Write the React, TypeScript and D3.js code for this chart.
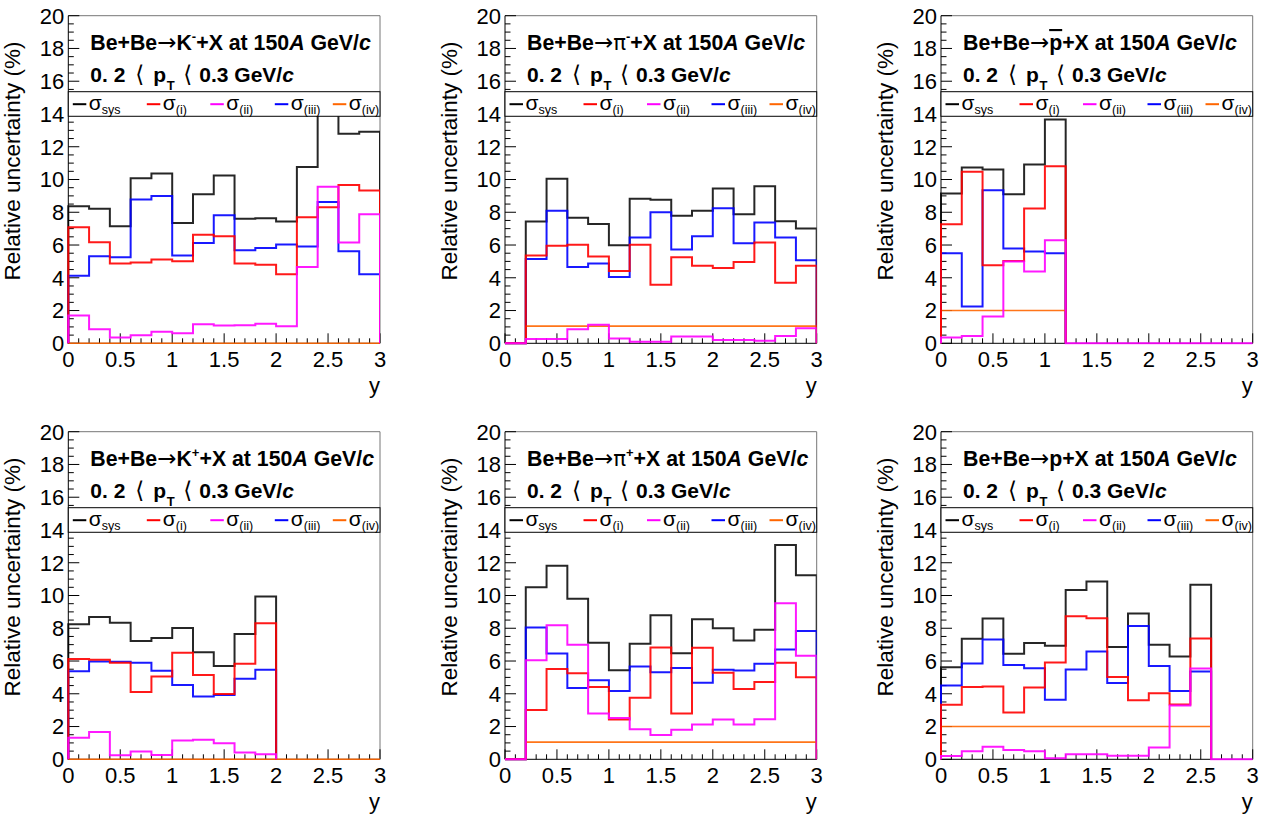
import React from "react";
import * as d3 from "d3";

// ---------- data ----------
const binEdges = [0, 0.2, 0.4, 0.6, 0.8, 1.0, 1.2, 1.4, 1.6, 1.8, 2.0, 2.2, 2.4, 2.6, 2.8, 3.0];
const yTicks = [0, 2, 4, 6, 8, 10, 12, 14, 16, 18, 20];
const xTicks = [0, 0.5, 1, 1.5, 2, 2.5, 3];
const xTickLabels = ["0", "0.5", "1", "1.5", "2", "2.5", "3"];
const legendLabels = ["sys", "(i)", "(ii)", "(iii)", "(iv)"];
const seriesColors = ["#000000", "#ff0000", "#ff00ff", "#0000ff", "#ff6600"];

// K- (top left)
const kmSys = [8.37, 8.21, 7.15, 10.08, 10.37, 7.35, 9.1, 10.24, 7.6, 7.64, 7.43, 10.77, 15.2, 12.79, 12.91];
const kmI = [7.09, 6.17, 4.87, 4.93, 5.11, 5.01, 6.62, 6.54, 4.87, 4.79, 4.22, 7.7, 8.31, 9.67, 9.33];
const kmII = [1.69, 0.86, 0.35, 0.49, 0.71, 0.61, 1.16, 1.08, 1.1, 1.2, 1.04, 4.66, 9.55, 6.15, 7.88];
const kmIII = [4.13, 5.32, 5.25, 8.78, 9.0, 5.36, 6.13, 7.82, 5.68, 5.82, 6.03, 5.91, 8.62, 5.62, 4.22];
const kmIV = [0, 0, 0, 0, 0, 0, 0, 0, 0, 0, 0, 0, 0, 0, 0];

// pi- (top middle)
const pimSys = [0, 7.43, 10.04, 7.66, 7.29, 5.99, 8.82, 8.76, 7.78, 8.09, 9.45, 7.88, 9.59, 7.45, 7.01];
const pimI = [0, 5.36, 5.95, 6.01, 5.3, 4.42, 6.01, 3.58, 5.25, 4.73, 4.6, 4.97, 6.15, 3.69, 4.73];
const pimII = [0, 0.26, 0.26, 0.86, 1.14, 0.29, 0.1, 0.1, 0.41, 0.41, 0.2, 0.2, 0.16, 0.45, 0.92];
const pimIII = [0, 5.15, 8.09, 4.66, 4.87, 4.05, 6.46, 8.0, 5.72, 6.54, 8.25, 6.11, 7.37, 6.46, 5.07];
const pimIV = [0, 1.05, 1.05, 1.05, 1.05, 1.05, 1.05, 1.05, 1.05, 1.05, 1.05, 1.05, 1.05, 1.05, 1.05];

// anti-p (top right)
const pbSys = [9.14, 10.73, 10.61, 9.1, 10.92, 13.67];
const pbI = [7.27, 10.47, 4.77, 5.03, 8.23, 10.81];
const pbII = [0.35, 0.45, 1.63, 4.99, 4.38, 6.29, 0, 0, 0, 0, 0, 0, 0, 0, 0];
const pbIII = [5.5, 2.24, 9.35, 5.78, 5.6, 5.5];
const pbIV = [2.0, 2.0, 2.0, 2.0, 2.0, 2.0];

// K+ (bottom left)
const kpSys = [8.24, 8.69, 8.34, 7.22, 7.4, 8.02, 6.54, 5.69, 7.65, 9.94];
const kpI = [6.13, 6.07, 5.89, 4.11, 5.05, 6.5, 5.15, 3.99, 5.83, 8.3];
const kpII = [1.31, 1.66, 0.25, 0.47, 0.27, 1.15, 1.19, 0.98, 0.41, 0.31];
const kpIII = [5.38, 5.97, 5.95, 5.89, 5.4, 4.54, 3.84, 3.93, 4.91, 5.46];
const kpIV = [0, 0, 0, 0, 0, 0, 0, 0, 0, 0, 0, 0, 0, 0, 0];

// pi+ (bottom middle)
const pipSys = [0, 10.51, 11.82, 9.8, 7.12, 5.44, 7.06, 8.79, 6.48, 8.55, 8.0, 7.26, 7.91, 13.09, 11.23];
const pipI = [0, 3.01, 5.52, 5.26, 4.42, 2.43, 3.76, 6.83, 2.8, 6.81, 5.28, 4.29, 4.72, 5.89, 5.01];
const pipII = [0, 6.05, 8.18, 6.99, 2.8, 2.52, 1.84, 1.49, 1.8, 2.13, 2.43, 2.13, 2.45, 9.53, 6.32];
const pipIII = [0, 8.04, 6.46, 4.36, 4.83, 4.17, 5.66, 5.32, 5.58, 4.68, 5.46, 5.42, 5.83, 6.71, 7.83];
const pipIV = [0, 1.05, 1.05, 1.05, 1.05, 1.05, 1.05, 1.05, 1.05, 1.05, 1.05, 1.05, 1.05, 1.05, 1.05];

// p (bottom right)
const pSys = [5.62, 7.36, 8.59, 6.44, 7.1, 6.93, 10.33, 10.86, 6.85, 8.9, 6.99, 6.28, 10.65];
const pI = [3.33, 4.42, 4.44, 2.86, 4.38, 5.91, 8.73, 8.61, 5.03, 3.6, 4.03, 3.35, 7.38];
const pII = [0.2, 0.49, 0.76, 0.57, 0.49, 0.06, 0.31, 0.31, 0.22, 0.22, 0.72, 3.29, 5.54, 0, 0];
const pIII = [4.5, 5.85, 7.32, 5.75, 5.56, 3.64, 5.48, 6.58, 4.66, 8.14, 5.69, 4.17, 5.36];
const pIV = [2.0, 2.0, 2.0, 2.0, 2.0, 2.0, 2.0, 2.0, 2.0, 2.0, 2.0, 2.0, 2.0];

const particles = ["K", "π", "p", "K", "π", "p"];
const charges = ["-", "-", "", "+", "+", ""];
const antiFlags = [false, false, true, false, false, false];

// series order: sys, i, ii, iii, iv
const panelSeries = [
  [kmSys, kmI, kmII, kmIII, kmIV],
  [pimSys, pimI, pimII, pimIII, pimIV],
  [pbSys, pbI, pbII, pbIII, pbIV],
  [kpSys, kpI, kpII, kpIII, kpIV],
  [pipSys, pipI, pipII, pipIII, pipIV],
  [pSys, pI, pII, pIII, pIV],
];

// ---------- layout ----------
const W = 1264;
const H = 818;
const colLeft = [68.3, 505, 941];
const rowTop = [15.7, 431.7];
const plotW = 311.7;
const plotH = 327.6;
const FONT = "'Liberation Sans', Arial, Helvetica, sans-serif";
const SYM = "'DejaVu Sans', sans-serif";
// drawing order of series indices
const drawOrder = [0, 3, 4, 1, 2];
const legendOffsets = [4.5, 78.5, 142, 206.5, 264.5];

function stepPath(vals: number[], x: d3.ScaleLinear<number, number>, y: d3.ScaleLinear<number, number>) {
  const pts: [number, number][] = [[binEdges[0], 0]];
  vals.forEach((v, i) => {
    pts.push([binEdges[i], v]);
    pts.push([binEdges[i + 1], v]);
  });
  pts.push([binEdges[vals.length], 0]);
  const line = d3
    .line<[number, number]>()
    .x((d) => x(d[0]))
    .y((d) => y(d[1]));
  return line(pts) || "";
}

function Panel({ idx }: { idx: number }) {
  const col = idx % 3;
  const row = Math.floor(idx / 3);
  const left = colLeft[col];
  const top = rowTop[row];
  const x = d3.scaleLinear().domain([0, 3]).range([left, left + plotW]);
  const y = d3.scaleLinear().domain([0, 20]).range([top + plotH, top]);
  const series = panelSeries[idx];
  const clipId = `clip${idx}`;
  const yMinor = d3.range(0, 20.001, 0.5);
  const xMinor = d3.range(0, 3.0001, 0.1);
  const tx = left + 22;
  const legTop = top + 76;
  const legBot = y(14) + 2.3;
  const charge = charges[idx];
  const isPi = particles[idx] === "π";
  return (
    <g>
      <defs>
        <clipPath id={clipId}>
          <rect x={left - 1.5} y={top} width={plotW + 1.5} height={plotH + 1.5} />
        </clipPath>
      </defs>
      {/* frame */}
      <line x1={left} x2={left + plotW} y1={top} y2={top} stroke="#777" strokeWidth={1} />
      <line x1={left + plotW} x2={left + plotW} y1={top} y2={top + plotH} stroke="#777" strokeWidth={1} />
      <line x1={left} x2={left} y1={top} y2={top + plotH} stroke="#000" strokeWidth={1} />
      <line x1={left} x2={left + plotW} y1={top + plotH} y2={top + plotH} stroke="#000" strokeWidth={1} />
      {/* y ticks */}
      {yMinor.map((v, i) => {
        const major = Math.abs(v / 2 - Math.round(v / 2)) < 1e-6;
        return (
          <line key={"ym" + i} x1={left} x2={left + (major ? 11 : 5.5)} y1={y(v)} y2={y(v)} stroke="#000" strokeWidth={1} />
        );
      })}
      {/* x ticks */}
      {xMinor.map((v, i) => {
        const major = i % 5 === 0;
        return (
          <line key={"xm" + i} x1={x(v)} x2={x(v)} y1={top + plotH} y2={top + plotH - (major ? 10 : 5)} stroke="#000" strokeWidth={1} />
        );
      })}
      {/* y tick labels */}
      {yTicks.map((v) => (
        <text key={"yl" + v} x={left - 4} y={y(v) + 7.8} textAnchor="end" fontSize={22} fontFamily={FONT} fill="#000">
          {v}
        </text>
      ))}
      {/* x tick labels */}
      {xTicks.map((v, i) => (
        <text key={"xl" + v} x={x(v)} y={top + plotH + 23.5} textAnchor="middle" fontSize={22} fontFamily={FONT} fill="#000">
          {xTickLabels[i]}
        </text>
      ))}
      {/* axis titles */}
      <text x={left + plotW} y={top + plotH + 50} textAnchor="end" fontSize={22} fontFamily={FONT} fill="#000">
        y
      </text>
      <text
        transform={`translate(${left - 48},${top + 145.3}) rotate(-90)`}
        textAnchor="middle"
        fontSize={22.5}
        fontFamily={FONT}
        fill="#000"
      >
        Relative uncertainty (%)
      </text>
      {/* data */}
      <g clipPath={`url(#${clipId})`}>
        {drawOrder.map((s) => (
          <path
            key={"s" + s}
            d={stepPath(series[s], x, y)}
            fill="none"
            stroke={seriesColors[s]}
            strokeWidth={s === 4 ? 1.6 : 2}
            strokeOpacity={s === 0 ? 0.85 : 0.9}
          />
        ))}
      </g>
      {/* legend */}
      <rect x={left} y={legTop} width={plotW} height={legBot - legTop} fill="#fff" stroke="#000" strokeWidth={1} />
      {legendLabels.map((lab, i) => {
        const lx = left + legendOffsets[i];
        return (
          <g key={"lg" + i}>
            <line x1={lx} x2={lx + 13.5} y1={legTop + 12.5} y2={legTop + 12.5} stroke={seriesColors[i]} strokeWidth={2} />
            <text x={lx + 16} y={legTop + 18.5} fontSize={21} fontFamily={FONT} fill="#000" style={{ whiteSpace: "pre" }}>
              σ
              <tspan fontSize={12.5} dy={3.5}>
                {lab}
              </tspan>
            </text>
          </g>
        );
      })}
      {/* header text */}
      <text x={tx} y={top + 34.3} fontSize={21.3} fontWeight="bold" fontFamily={FONT} fill="#000" style={{ whiteSpace: "pre" }}>
        <tspan>Be+Be</tspan>
        <tspan fontWeight="normal" fontFamily={SYM} fontSize={23}>→</tspan>
        <tspan
          fontWeight={isPi ? "normal" : "bold"}
          fontFamily={isPi ? SYM : FONT}
          textDecoration={antiFlags[idx] ? "overline" : undefined}
        >
          {particles[idx]}
        </tspan>
        {charge ? (
          <tspan fontSize={13} dy={-9}>
            {charge}
          </tspan>
        ) : null}
        <tspan dy={charge ? 9 : 0}>+X at 150</tspan>
        <tspan fontStyle="italic">A</tspan>
        <tspan> GeV/</tspan>
        <tspan fontStyle="italic">c</tspan>
      </text>
      <text x={tx} y={top + 66} fontSize={21} fontWeight="bold" fontFamily={FONT} fill="#000" style={{ whiteSpace: "pre" }}>
        <tspan>0. 2</tspan>
        <tspan x={tx + 45} fontWeight="normal" fontFamily={SYM} fontSize={23}>⟨</tspan>
        <tspan x={tx + 63}>p</tspan>
        <tspan x={tx + 76.5} dy={8.5} fontSize={13}>T</tspan>
        <tspan x={tx + 93} dy={-8.5} fontWeight="normal" fontFamily={SYM} fontSize={23}>⟨</tspan>
        <tspan x={tx + 109}>0.3 GeV/</tspan>
        <tspan fontStyle="italic">c</tspan>
      </text>
    </g>
  );
}

export default function App() {
  return (
    <svg
      width={W}
      height={H}
      viewBox={`0 0 ${W} ${H}`}
      style={{ position: "absolute", left: 0, top: 0, background: "#fff" }}
    >
      <rect x={0} y={0} width={W} height={H} fill="#fff" />
      {[0, 1, 2, 3, 4, 5].map((i) => (
        <Panel key={i} idx={i} />
      ))}
    </svg>
  );
}
